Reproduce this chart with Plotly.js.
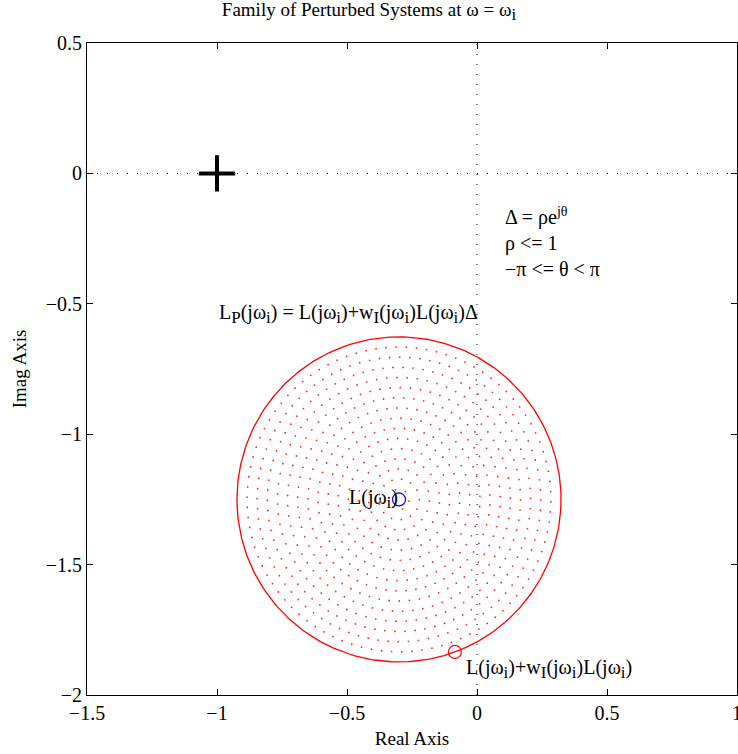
<!DOCTYPE html>
<html>
<head>
<meta charset="utf-8">
<script src="https://cdn.plot.ly/plotly-3.0.1.min.js"></script>
<style>
  html, body { margin: 0; padding: 0; background: #fff; }
  #plot { width: 738px; height: 754px; }
</style>
</head>
<body>
<div id="plot"></div>
<script>
// Nominal loop response at the frequency of interest, L(jw_i)
const nominalRe = -0.3;
const nominalIm = -1.25;
// Uncertainty weight times nominal, w_I(jw_i) L(jw_i)
const weightedRe = 0.215;
const weightedIm = -0.585;
// Critical point
const criticalRe = [-1];
const criticalIm = [0];

// Perturbation grid: Delta = rho * exp(j*theta)
const rhoLevels = [0.0625, 0.125, 0.1875, 0.25, 0.3125, 0.375, 0.4375, 0.5,
                   0.5625, 0.625, 0.6875, 0.75, 0.8125, 0.875, 0.9375];
const thetaCounts = [6, 13, 19, 25, 31, 38, 44, 50, 57, 63, 69, 75, 82, 88, 94];
const boundaryCount = 360;

const xTicks = [-1.5, -1, -0.5, 0, 0.5, 1];
const xTickText = ['\u22121.5', '\u22121', '\u22120.5', '0', '0.5', '1'];
const yTicks = [-2, -1.5, -1, -0.5, 0, 0.5];
const yTickText = ['\u22122', '\u22121.5', '\u22121', '\u22120.5', '0', '0.5'];

// L_P = L + wL * Delta
function perturbed(rho, theta) {
  const dr = rho * Math.cos(theta), di = rho * Math.sin(theta);
  return [nominalRe + weightedRe * dr - weightedIm * di,
          nominalIm + weightedRe * di + weightedIm * dr];
}

const famX = [], famY = [];
rhoLevels.forEach((rho, k) => {
  const n = thetaCounts[k];
  for (let m = 0; m < n; m++) {
    const th = -Math.PI + 2 * Math.PI * m / n;
    const p = perturbed(rho, th);
    famX.push(p[0]); famY.push(p[1]);
  }
});

const bndX = [], bndY = [];
for (let m = 0; m <= boundaryCount; m++) {
  const p = perturbed(1, -Math.PI + 2 * Math.PI * m / boundaryCount);
  bndX.push(p[0]); bndY.push(p[1]);
}

const font = '"Liberation Serif", serif';
// subscript with a full-size lowered glyph
const sub = s => '<sub><span style="font-size:17px">' + s + '</span></sub>';

const traces = [
  { x: famX, y: famY, mode: 'markers', type: 'scatter',
    marker: { color: 'red', size: 1.8, symbol: 'circle', opacity: 0.85 }, hoverinfo: 'skip' },
  { x: bndX, y: bndY, mode: 'lines', type: 'scatter',
    line: { color: 'red', width: 1.3 }, hoverinfo: 'skip' },
  { x: [nominalRe], y: [nominalIm], mode: 'markers', type: 'scatter',
    marker: { symbol: 'circle-open', size: 13, color: 'blue', line: { color: 'blue', width: 1.2 } } },
  { x: [nominalRe + weightedRe], y: [nominalIm + weightedIm], mode: 'markers', type: 'scatter',
    marker: { symbol: 'circle-open', size: 13, color: 'red', line: { color: 'red', width: 1.2 } } },
  { x: criticalRe, y: criticalIm, mode: 'markers', type: 'scatter',
    marker: { symbol: 'cross-thin', size: 26, color: 'black', line: { color: 'black', width: 4 } } }
];

const ann = (x, y, text, extra) => Object.assign({
  x: x, y: y, xref: 'x', yref: 'y', text: text, showarrow: false,
  xanchor: 'left', yanchor: 'middle', align: 'left',
  font: { family: font, size: 20, color: 'black' }
}, extra || {});

const layout = {
  width: 738, height: 754,
  margin: { l: 87, r: 1, t: 43, b: 59 },
  paper_bgcolor: 'white', plot_bgcolor: 'white',
  showlegend: false,
  title: { text: 'Family of Perturbed Systems at \u03c9 = \u03c9' + sub('i'),
           font: { family: font, size: 19, color: 'black' },
           x: 0.5, xanchor: 'center', y: 0.988, yanchor: 'middle' },
  xaxis: {
    range: [-1.5, 1], tickvals: xTicks, ticktext: xTickText,
    ticks: 'inside', ticklen: 6, tickcolor: 'black', tickwidth: 1,
    showline: true, linecolor: 'black', linewidth: 1, mirror: 'ticks',
    showgrid: false, zeroline: false, ticklabeloverflow: 'allow',
    tickfont: { family: font, size: 20, color: 'black' },
    title: { text: 'Real Axis', font: { family: font, size: 19, color: 'black' }, standoff: 8 }
  },
  yaxis: {
    range: [-2, 0.5], tickvals: yTicks, ticktext: yTickText,
    ticks: 'inside', ticklen: 6, tickcolor: 'black', tickwidth: 1,
    showline: true, linecolor: 'black', linewidth: 1, mirror: 'ticks',
    showgrid: false, zeroline: false,
    tickfont: { family: font, size: 20, color: 'black' },
    title: { text: 'Imag Axis', font: { family: font, size: 19, color: 'black' }, standoff: 14 }
  },
  shapes: [
    { type: 'line', xref: 'paper', yref: 'y', x0: 0, x1: 1, y0: 0, y1: 0,
      line: { color: 'black', width: 1, dash: '1px,9px' }, layer: 'below' },
    { type: 'line', xref: 'x', yref: 'paper', x0: 0, x1: 0, y0: 0, y1: 1,
      line: { color: 'black', width: 1, dash: '1px,9px' }, layer: 'below' }
  ],
  annotations: [
    ann(0.1, -0.262, '\u0394 = \u03c1e<sup>j\u03b8</sup><br>\u03c1 <= 1<br>\u2212\u03c0 <= \u03b8 < \u03c0'),
    ann(-1.0, -0.54, 'L' + sub('P') + '(j\u03c9' + sub('i') + ') = L(j\u03c9' + sub('i') + ')+w' + sub('I') +
        '(j\u03c9' + sub('i') + ')L(j\u03c9' + sub('i') + ')\u0394'),
    ann(-0.5, -1.25, 'L(j\u03c9' + sub('i') + ')'),
    ann(-0.05, -1.9, 'L(j\u03c9' + sub('i') + ')+w' + sub('I') + '(j\u03c9' + sub('i') + ')L(j\u03c9' + sub('i') + ')')
  ]
};

Plotly.newPlot('plot', traces, layout, { staticPlot: true, displayModeBar: false });
</script>
</body>
</html>
